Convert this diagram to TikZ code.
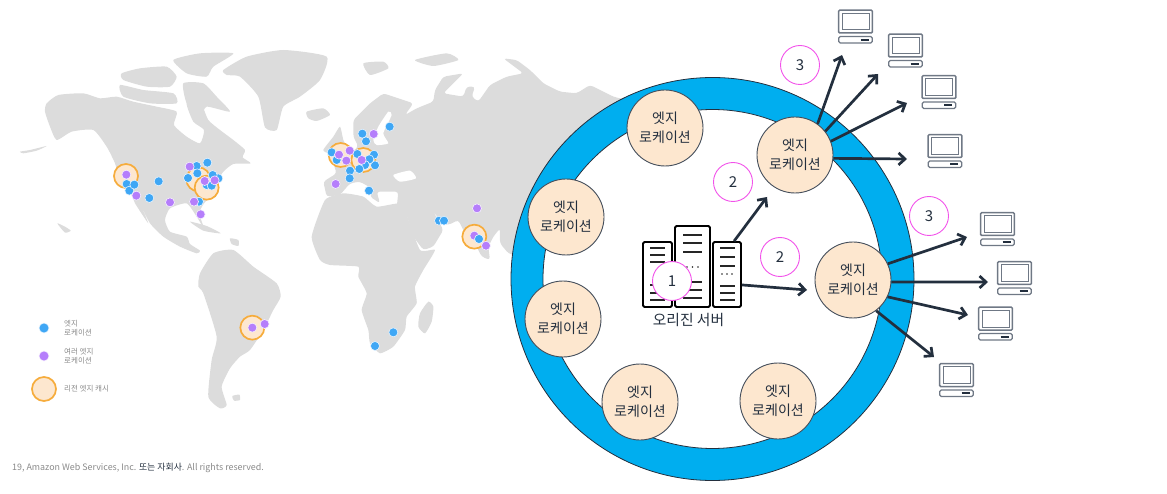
\documentclass[tikz,border=0pt]{standalone}
\usepackage{fontspec}
\usepackage{xcolor}
\usepackage{tikz}
\usetikzlibrary{arrows.meta,positioning}
\setmainfont{Noto Sans CJK KR}
\definecolor{LandGray}{HTML}{DCDCDC}
\definecolor{RingBlue}{HTML}{00AEEF}
\definecolor{InkDark}{HTML}{232F3E}
\definecolor{EdgeFill}{HTML}{FDE7CF}
\definecolor{CacheOrange}{HTML}{F6AC3C}
\definecolor{DotBlue}{HTML}{3FA7F5}
\definecolor{DotPurple}{HTML}{B57EFB}
\definecolor{StepPink}{HTML}{F252EA}
\definecolor{PcGray}{HTML}{6F7885}
\definecolor{LegendGray}{HTML}{8A8A8A}
\tikzset{
  land/.style={fill=LandGray,draw=none},
  edgeloc/.style={draw=InkDark!85,line width=0.9pt,circle,fill=EdgeFill,minimum size=76pt,inner sep=0pt,align=center,font=\fontsize{14}{18.5}\selectfont,text=InkDark},
  stepmark/.style={draw=StepPink,line width=0.9pt,circle,fill=white,minimum size=39pt,inner sep=0pt,font=\fontsize{15}{18}\selectfont,text=InkDark},
  stepopen/.style={stepmark,fill=none},
  flow/.style={draw=InkDark,line width=2.7pt,-{Straight Barb[length=6.5pt,width=12pt]}},
  rack/.style={draw=black,line width=1.8pt,rounded corners=1.5pt,fill=white,inner sep=0pt},
  rackline/.style={draw=black!85,line width=1.5pt},
  dotblue/.style={circle,fill=DotBlue,draw=white!88!DotBlue,line width=0.6pt,minimum size=9pt,inner sep=0pt},
  dotpurple/.style={circle,fill=DotPurple,draw=white!88!DotPurple,line width=0.6pt,minimum size=9pt,inner sep=0pt},
  cachering/.style={circle,fill=EdgeFill,draw=CacheOrange,line width=1.7pt,minimum size=24pt,inner sep=0pt},
  legendtext/.style={align=left,anchor=west,inner sep=0pt,text=LegendGray,font=\fontsize{7.5}{9}\selectfont},
  pics/computer/.style={code={
    \draw[PcGray,line width=1.5pt,rounded corners=1pt,fill=white] (-16.8,-16.3) rectangle (16.8,6.5);
    \draw[PcGray,line width=1pt] (-13.5,-13.2) rectangle (13.5,3.5);
    \draw[PcGray,line width=1.3pt,rounded corners=1.5pt,fill=white] (-16.8,10) rectangle (16.8,16.5);
    \draw[InkDark,line width=1.8pt] (5,13.3) -- (13,13.3);
  }}
}
\begin{document}
\begin{tikzpicture}[x=1pt,y=-1pt,>=Latex]
\useasboundingbox (0,0) rectangle (1167,494);

% world map, in thirds of a pixel
\begin{scope}[shift={(0,40)},x=0.33333pt,y=-0.33333pt]
\fill[land] plot[smooth cycle,tension=.35] coordinates {(140,190) (175,165) (250,160) (300,175) (350,170) (400,185) (470,200) (530,215) (522,255) (560,290) (600,310) (612,270) (580,245) (560,190) (600,185) (625,240) (660,270) (700,300) (735,330) (728,352) (752,370) (700,372) (670,395) (655,420) (640,460) (612,490) (598,520) (612,565) (590,530) (560,490) (510,505) (495,540) (510,575) (560,590) (570,612) (600,632) (590,640) (540,620) (490,590) (450,550) (420,490) (445,550) (405,490) (395,465) (360,420) (345,370) (320,320) (280,270) (215,275) (170,300) (150,260) (135,215)};
\fill[land] plot[smooth cycle,tension=.35] coordinates {(595,740) (600,700) (640,640) (700,630) (760,680) (830,730) (842,770) (820,810) (790,870) (750,930) (720,950) (690,985) (665,1040) (680,1095) (660,1105) (625,1070) (635,960) (650,890) (610,760)};
\fill[land] plot[smooth cycle,tension=.35] coordinates {(670,90) (740,50) (850,30) (980,50) (960,120) (900,170) (850,200) (830,270) (795,262) (775,170) (720,110) (680,105)};
\fill[land] plot[smooth cycle,tension=.35] coordinates {(365,100) (420,85) (500,80) (530,110) (510,140) (440,140) (370,120)};
\fill[land] plot[smooth cycle,tension=.35] coordinates {(520,60) (600,40) (700,40) (640,80) (620,110) (560,100)};
\fill[land] plot[smooth cycle,tension=.35] coordinates {(360,135) (430,150) (520,160) (530,190) (450,190) (370,170)};
\fill[land] plot[smooth cycle,tension=.35] coordinates {(550,130) (610,130) (650,170) (690,215) (620,200) (600,230) (560,190)};
\fill[land] plot[smooth cycle,tension=.35] coordinates {(920,215) (970,205) (990,225) (950,243) (925,235)};
\fill[land] plot[smooth cycle,tension=.35] coordinates {(1090,70) (1150,65) (1165,85) (1110,105)};
\fill[land] plot[smooth cycle,tension=.35] coordinates {(1245,60) (1340,40) (1375,60) (1300,78)};
\fill[land] plot[smooth cycle,tension=.35] coordinates {(1000,290) (1020,260) (1030,300) (1042,330) (990,340) (970,330)};
\fill[land] plot[smooth cycle,tension=.35] coordinates {(570,545) (620,558) (662,580) (610,572)};
\fill[land] plot[smooth cycle,tension=.35] coordinates {(690,595) (715,600) (715,618) (695,612)};
\fill[land] plot[smooth cycle,tension=.35] coordinates {(172,550) (195,560) (212,572) (195,578)};
\fill[land] plot[smooth cycle,tension=.35] coordinates {(60,335) (90,330) (140,318) (110,332) (70,340)};
\fill[land] plot[smooth cycle,tension=.35] coordinates {(697,1068) (718,1064) (720,1080) (702,1082)};
\fill[land,rounded corners=3pt] (1060,240) -- (1110,190) -- (1150,160) -- (1240,190) -- (1215,225) -- (1250,205) -- (1300,185) -- (1305,150) -- (1330,110) -- (1390,100) -- (1350,140) -- (1330,160) -- (1390,170) -- (1400,140) -- (1425,140) -- (1415,170) -- (1435,185) -- (1470,135) -- (1520,110) -- (1570,100) -- (1510,55) -- (1550,60) -- (1590,90) -- (1630,130) -- (1680,155) -- (1730,160) -- (1770,135) -- (1840,170) -- (1880,180) -- (1900,300) -- (1700,700) -- (1525,640) -- (1500,610) -- (1500,565) -- (1480,590) -- (1465,620) -- (1470,660) -- (1445,650) -- (1430,620) -- (1410,610) -- (1390,570) -- (1375,540) -- (1345,555) -- (1325,550) -- (1298,510) -- (1330,570) -- (1300,620) -- (1270,630) -- (1240,590) -- (1220,525) -- (1190,505) -- (1195,455) -- (1130,455) -- (1140,490) -- (1110,470) -- (1115,445) -- (1080,425) -- (1050,430) -- (1020,465) -- (980,470) -- (970,425) -- (1010,400) -- (1000,370) -- (1045,345) -- (1075,320) -- (1060,290) -- cycle;
\fill[land] plot[smooth cycle,tension=.3] coordinates {(935,590) (975,480) (1030,460) (1090,470) (1130,500) (1200,490) (1220,525) (1260,630) (1305,630) (1270,690) (1245,740) (1250,790) (1220,830) (1215,870) (1180,920) (1140,940) (1110,910) (1105,870) (1085,810) (1100,760) (1075,710) (1075,680) (990,675) (960,660)};
\fill[land] plot[smooth cycle,tension=.35] coordinates {(1285,785) (1300,800) (1295,845) (1275,880) (1255,860) (1260,820)};
\fill[white] plot[smooth cycle,tension=.35] coordinates {(1120,300) (1135,260) (1165,215) (1175,225) (1150,280) (1165,310) (1130,315)};
\fill[white] plot[smooth cycle,tension=.35] coordinates {(1180,405) (1230,392) (1248,415) (1200,425)};

\foreach \i/\x/\y in {a/378/408,b/595/418,c/620/443,d/1022/345,e/1090/360,f/1423/590,g/757/863}
  \node[cachering] (cache\i) at (\x,\y) {};
\foreach \i/\x/\y in {1/476/424,2/448/474,3/380/432,4/388/452,5/403/434,6/622/368,7/590/378,8/592/400,9/564/414,10/655/415,11/638/405,12/620/435,13/635/437,14/597/485,15/1087/281,16/1098/304,17/1169/260,18/995/337,19/1010/360,20/1072/342,21/1122/344,22/1125/376,23/1108/358,24/1095/375,25/1078/387,26/1050/392,27/1049/415,28/1107/452,29/1317/542,30/1332/542,31/1180/877,32/1125/918}
  \node[dotblue] (blue\i) at (\x,\y) {};
\foreach \i/\x/\y in {1/379/404,2/409/467,3/510/487,4/569/380,5/614/423,6/644/421,7/582/485,8/602/523,9/1121/282,10/1017/344,11/1049/332,12/1039/362,13/1085/360,14/1007/432,15/1431/505,16/1423/587,17/1458/617,18/757/863,19/794/852}
  \node[dotpurple] (purple\i) at (\x,\y) {};
\node[dotblue] (blue33) at (1437,597) {};
\end{scope}

% legend
\node[dotblue,minimum size=10pt] (keyBlue) at (44,328) {};
\node[dotpurple,minimum size=10pt] (keyPurple) at (44,356) {};
\node[cachering] (keyCache) at (44,389) {};
\node[legendtext] at (64,328) {엣지\\로케이션};
\node[legendtext] at (64,356) {여러 엣지\\로케이션};
\node[legendtext] at (64,389) {리전 엣지 캐시};
\node[anchor=west,inner sep=0pt,text=LegendGray,font=\fontsize{8.9}{10}\selectfont] at (12,468) {19, Amazon Web Services, Inc. \textcolor{InkDark}{또는 자회사}. All rights reserved.};

% ring of edge locations
\node[circle,draw=InkDark,line width=0.8pt,fill=RingBlue,minimum size=403pt,inner sep=0pt] (ringOuter) at (712.5,279) {};
\node[circle,draw=InkDark,line width=0.8pt,fill=white,minimum size=339pt,inner sep=0pt] (ringInner) at (712.5,279) {};

\node[edgeloc] (edgeA) at (665,128) {엣지\\로케이션};
\node[edgeloc] (edgeB) at (795,155) {엣지\\로케이션};
\node[edgeloc] (edgeC) at (566,217) {엣지\\로케이션};
\node[edgeloc] (edgeD) at (563,319) {엣지\\로케이션};
\node[edgeloc] (edgeE) at (640,402) {엣지\\로케이션};
\node[edgeloc] (edgeF) at (778,401) {엣지\\로케이션};
\node[edgeloc] (edgeG) at (853,280) {엣지\\로케이션};

% origin server
\node[rack,minimum width=29pt,minimum height=65pt] (rackL) at (657.5,274.5) {};
\node[rack,minimum width=35pt,minimum height=81pt] (rackM) at (692.5,266.5) {};
\node[rack,minimum width=28pt,minimum height=65pt] (rackR) at (727,274.5) {};
\foreach \y in {248,255,262,285,293,300} \draw[rackline] (650,\y) -- (665,\y);
\foreach \y in {235,243,252,282,290,298} \draw[rackline] (683,\y) -- (702,\y);
\foreach \y in {248,257,266,286,293,300} \draw[rackline] (720,\y) -- (735,\y);
\foreach \x in {687,692.5,698} \fill[black!85] (\x,267) circle (0.9);
\foreach \x in {722,727,732} \fill[black!85] (\x,274) circle (0.9);
\node[text=InkDark,font=\fontsize{14.8}{16}\selectfont,below=2pt of rackM,xshift=-4pt] (originLabel) {오리진 서버};

% step numbers
\node[stepmark] (stepOne) at (672,281) {1};
\node[stepopen] (stepTwoA) at (733,182) {2};
\node[stepopen] (stepTwoB) at (780,257) {2};
\node[stepopen] (stepThreeA) at (800,65) {3};
\node[stepopen] (stepThreeB) at (929,216) {3};

% computers
\pic (pcA) at (855.5,26.5) {computer};
\pic (pcB) at (905.5,50.5) {computer};
\pic (pcC) at (939,92) {computer};
\pic (pcD) at (945,151) {computer};
\pic (pcE) at (997.5,229) {computer};
\pic (pcF) at (1014.5,278) {computer};
\pic (pcG) at (995.5,323.5) {computer};
\pic (pcH) at (956.5,380) {computer};

% arrows
\coordinate (tipServerB) at (767,197);
\coordinate (tipServerG) at (807,290);
\coordinate (tipA) at (842,55);
\coordinate (tipB) at (878,74);
\coordinate (tipC) at (907,103);
\coordinate (tipD) at (907,159);
\coordinate (tipE) at (967,237);
\coordinate (tipF) at (988,282);
\coordinate (tipG) at (968,315);
\coordinate (tipH) at (934,357);
\draw[flow] (rackR.78) -- (tipServerB);
\draw[flow] (rackR.-35) -- (tipServerG);
\draw[flow] (edgeB.54) -- (tipA);
\draw[flow] (edgeB.38) -- (tipB);
\draw[flow] (edgeB.21) -- (tipC);
\draw[flow] (edgeB.-5) -- (tipD);
\draw[flow] (edgeG.25) -- (tipE);
\draw[flow] (edgeG.-3) -- (tipF);
\draw[flow] (edgeG.-26) -- (tipG);
\draw[flow] (edgeG.-53) -- (tipH);
\end{tikzpicture}
\end{document}
